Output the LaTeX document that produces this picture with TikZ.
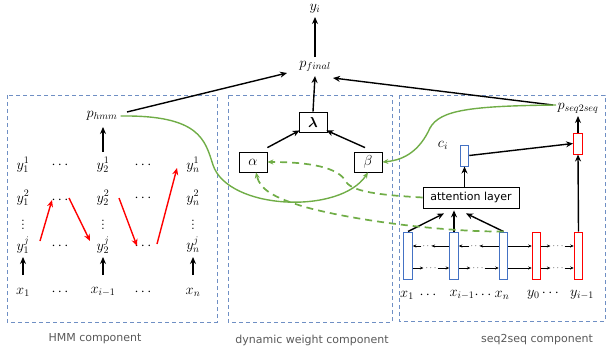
\documentclass[tikz,border=0pt]{standalone}
\usepackage{fontspec}
\usepackage{bm}
\setsansfont{DejaVu Sans}
\usetikzlibrary{arrows.meta,calc}
\definecolor{boxblue}{HTML}{6F8FC4}
\definecolor{grn}{HTML}{70AD47}
\definecolor{rctblue}{HTML}{4472C4}
\definecolor{labgray}{HTML}{595959}
\begin{document}
\begin{tikzpicture}[x=1pt,y=-1pt,
  m/.style={inner sep=0pt, font=\fontsize{14}{16}\selectfont},
  wbox/.style={draw, line width=0.8pt, minimum width=28pt, minimum height=20pt, inner sep=0pt, font=\fontsize{14}{16}\selectfont},
  srect/.style={draw=rctblue, line width=1pt, minimum width=8.5pt, minimum height=47pt, inner sep=0pt},
  rrect/.style={draw=red, line width=1pt, minimum width=8.5pt, minimum height=47pt, inner sep=0pt},
  lab/.style={font=\sffamily\fontsize{11}{13}\selectfont, text=labgray},
  comp/.style={draw=boxblue, line width=0.9pt, dash pattern=on 4pt off 3pt},
  blk/.style={-{Stealth[length=7pt,width=6pt]}, line width=1.4pt},
  redar/.style={-{Stealth[length=7pt,width=6pt]}, line width=1.4pt, red},
  sa/.style={-{Stealth[length=3.5pt,width=3pt]}, line width=0.6pt},
  garrow/.style={grn, line width=1.4pt, -{Stealth[length=6pt,width=5pt]}},
  gdash/.style={grn, line width=1.7pt, dash pattern=on 7pt off 5pt, -{Stealth[length=6pt,width=5pt]}},
  sd/.style={inner sep=0pt, font=\fontsize{9}{10}\selectfont}
]
\useasboundingbox (0,0) rectangle (608,356);

% component boxes
\draw[comp] (7,95) rectangle (217,322);
\draw[comp] (228,95) rectangle (392,322);
\draw[comp] (399,95) rectangle (605,321);
\node[lab] (l1) at (95,339) {HMM component};
\node[lab] (l2) at (312,340) {dynamic weight component};
\node[lab] (l3) at (537,340) {seq2seq component};

% top
\node[m] (yi) at (315,9) {$y_i$};
\node[m] (pf) at (315,66) {$p_{final}$};
\node[wbox] (lam) at (313,122) {$\bm{\lambda}$};
\node[wbox] (al) at (253,162) {$\alpha$};
\node[wbox] (be) at (368,162) {$\beta$};
\node[m] (ph) at (102,116) {$p_{hmm}$};
\node[m] (ps) at (578,108) {$p_{seq2seq}$};

\draw[blk] ([shift={(0,-9)}]pf.center) -- ([shift={(0,8)}]yi.center);
\draw[blk] (lam.north) -- ([shift={(0,10)}]pf.center);
\draw[blk] ([shift={(0,-4)}]al.north east) -- ([shift={(1,-2)}]lam.south west);
\draw[blk] ([shift={(-3,-4)}]be.north) -- ([shift={(-1,-2)}]lam.south east);
\draw[blk] ([shift={(25,-4)}]ph.center) -- ([shift={(-28,7)}]pf.center);
\draw[blk] ([shift={(-25,-3)}]ps.center) -- ([shift={(18,12)}]pf.center);

% HMM grid
\node[m] (y11) at (23,165) {$y_1^1$};
\node[m] (d11) at (60,165) {$\cdots$};
\node[m] (y21) at (103,165) {$y_2^1$};
\node[m] (d21) at (143,165) {$\cdots$};
\node[m] (yn1) at (193,165) {$y_n^1$};
\node[m] (y12) at (23,198) {$y_1^2$};
\node[m] (d12) at (60,200) {$\cdots$};
\node[m] (y22) at (103,198) {$y_2^2$};
\node[m] (d22) at (143,198) {$\cdots$};
\node[m] (yn2) at (193,198) {$y_n^2$};
\node[m] (v1) at (23,222) {$\vdots$};
\node[m] (v2) at (103,222) {$\vdots$};
\node[m] (v3) at (193,222) {$\vdots$};
\node[m] (y1j) at (23,245) {$y_1^j$};
\node[m] (d1j) at (60,246) {$\cdots$};
\node[m] (y2j) at (103,245) {$y_2^j$};
\node[m] (d2j) at (143,246) {$\cdots$};
\node[m] (ynj) at (193,245) {$y_n^j$};
\node[m] (x1) at (23,292) {$x_1$};
\node[m] (dx1) at (60,292) {$\cdots$};
\node[m] (xi) at (103,292) {$x_{i-1}$};
\node[m] (dx2) at (143,292) {$\cdots$};
\node[m] (xn) at (193,292) {$x_n$};

\draw[blk] ([shift={(0,-17)}]x1.center) -- ([shift={(0,12)}]y1j.center);
\draw[blk] ([shift={(0,-17)}]xi.center) -- ([shift={(0,12)}]y2j.center);
\draw[blk] ([shift={(0,-17)}]xn.center) -- ([shift={(0,12)}]ynj.center);
\draw[blk] ([shift={(0,-13)}]y21.center) -- ([shift={(1,11)}]ph.center);

\draw[redar] ([shift={(17,-4)}]y1j.center) -- ([shift={(-8,0)}]d12.center);
\draw[redar] ([shift={(9,-2)}]d12.center) -- ([shift={(-13,-4)}]y2j.center);
\draw[redar] ([shift={(16,0)}]y22.center) -- ([shift={(-6,0)}]d2j.center);
\draw[redar] ([shift={(14,-2)}]d2j.center) -- ([shift={(-16,3)}]yn1.center);

% seq2seq
\node[srect] (b1) at (408,255.5) {};
\node[srect] (b2) at (454,255.5) {};
\node[srect] (b3) at (503.5,255.5) {};
\node[rrect] (r1) at (536.5,255.5) {};
\node[rrect] (r2) at (578.5,255.5) {};
\node[draw, line width=0.8pt, minimum width=96pt, minimum height=21pt, inner sep=0pt, font=\sffamily\fontsize{11}{13}\selectfont] (att) at (471,197.5) {attention layer};
\node[draw=rctblue, line width=1pt, minimum width=8.5pt, minimum height=21pt, inner sep=0pt] (ci) at (464.5,155.5) {};
\node[draw=red, line width=1pt, minimum width=9pt, minimum height=21pt, inner sep=0pt] (r3) at (578,143.5) {};
\node[m] (cil) at (443,145) {$c_i$};

\node[m] (bx1) at (407,295) {$x_1$};
\node[m] (bd1) at (428,295) {$\cdots$};
\node[m] (bxi) at (462,295) {$x_{i-1}$};
\node[m] (bd2) at (483,295) {$\cdots$};
\node[m] (bxn) at (502,295) {$x_n$};
\node[m] (by0) at (543,295) {$y_0\cdots$};
\node[m] (byi) at (582,295) {$y_{i-1}$};

% horizontal small arrows
\node[sd] (du1) at (428,246) {$\cdots$};
\node[sd] (dl1) at (431,268) {$\cdots$};
\node[sd] (du2) at (476,246) {$\cdots$};
\node[sd] (dl2) at (478,268) {$\cdots$};
\node[sd] (du3) at (558,246) {$\cdots$};
\node[sd] (dl3) at (558,268) {$\cdots$};

\draw[sa] ([shift={(0,-9.5)}]b2.west) -- ([xshift=-2]du1.east);
\draw[sa] ([xshift=-1]du1.west) -- ([shift={(0,-9.5)}]b1.east);
\draw[sa] ([shift={(0,12.5)}]b1.east) -- ([xshift=-2]dl1.west);
\draw[sa] ([xshift=1]dl1.east) -- ([shift={(0,12.5)}]b2.west);
\draw[sa] ([shift={(0,-9.5)}]b3.west) -- ([xshift=-2]du2.east);
\draw[sa] ([xshift=-1]du2.west) -- ([shift={(0,-9.5)}]b2.east);
\draw[sa] ([shift={(0,12.5)}]b2.east) -- ([xshift=-2]dl2.west);
\draw[sa] ([xshift=1]dl2.east) -- ([shift={(0,12.5)}]b3.west);
\draw[sa] ([shift={(0,-9.5)}]b3.east) -- ([shift={(0,-9.5)}]r1.west);
\draw[sa] ([shift={(0,12.5)}]b3.east) -- ([shift={(0,12.5)}]r1.west);
\draw[sa] ([shift={(0,-9.5)}]r1.east) -- ([xshift=-2]du3.west);
\draw[sa] ([xshift=1]du3.east) -- ([shift={(0,-9.5)}]r2.west);
\draw[sa] ([shift={(0,12.5)}]r1.east) -- ([xshift=-2]dl3.west);
\draw[sa] ([xshift=1]dl3.east) -- ([shift={(0,12.5)}]r2.west);

\draw[blk] (b1.north) -- ([shift={(-27,5)}]att.south);
\draw[blk] (b2.north) -- ([shift={(-17,2)}]att.south);
\draw[blk] (b3.north) -- ([shift={(-5,5)}]att.south);
\draw[blk] (ci.south |- att.north) -- (ci.south);
\draw[blk] (ci.east) -- (r3.west);
\draw[blk] (r2.north) -- (r3.south);
\draw[blk] (r3.north) -- ([shift={(0,8)}]ps.center);

% green curves
\draw[garrow] ([xshift=3]ph.east) .. controls (200,115) and (205,140) .. (213,165) .. controls (228,210) and (340,215) .. (be.south);
\draw[garrow] ([shift={(-22,-3)}]ps.center) .. controls (470,106) and (440,110) .. (430,128) .. controls (420,150) and (405,160) .. (be.east);
\draw[gdash] (att.west) .. controls (380,195) and (350,192) .. (345,180) .. controls (335,165) and (300,162) .. (al.east);
\draw[gdash] (b3.north) .. controls (450,232) and (360,222) .. (305,207) .. controls (275,198) and (260,190) .. ([xshift=3]al.south);
\end{tikzpicture}
\end{document}
